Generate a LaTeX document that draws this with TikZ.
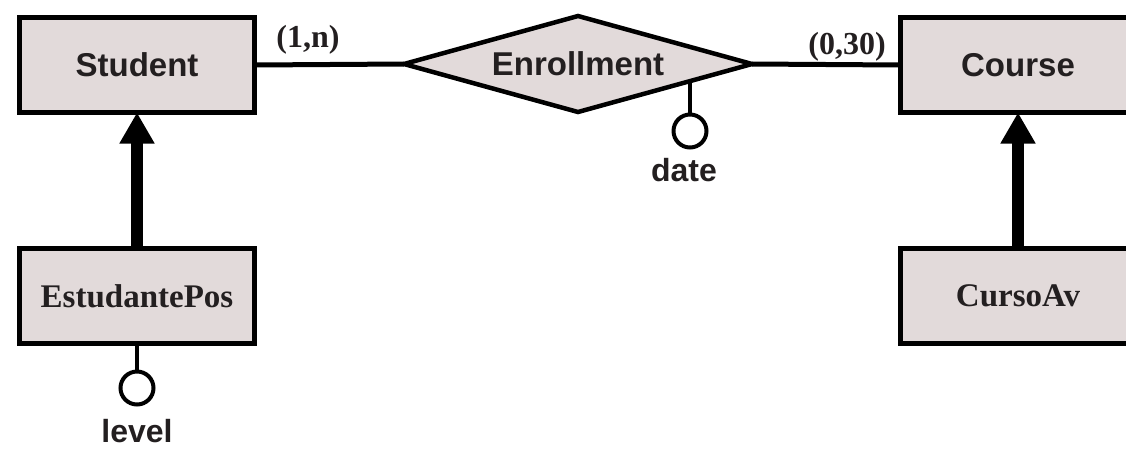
\documentclass[tikz,border=0pt]{standalone}
\usepackage{fontspec}
\setmainfont{Liberation Serif}
\newfontfamily\hsans{Liberation Sans}
\usetikzlibrary{shapes.geometric,arrows.meta}
\definecolor{erfill}{RGB}{226,218,218}
\definecolor{erink}{RGB}{35,31,32}
\tikzset{
  entity/.style={draw=black, line width=5pt, fill=erfill, minimum width=235pt,
    minimum height=95pt, inner sep=0pt, outer sep=0pt, text=erink},
  relation/.style={draw=black, line width=4.5pt, fill=erfill, diamond, aspect=3.5,
    minimum width=348pt, minimum height=96pt, inner sep=0pt, outer sep=0pt, text=erink},
  sanslabel/.style={font=\hsans\bfseries\fontsize{33}{36}\selectfont},
  seriflabel/.style={font=\bfseries\fontsize{33}{36}\selectfont},
  cardlabel/.style={font=\bfseries\fontsize{32}{34}\selectfont, text=erink, inner sep=0pt},
  link/.style={draw=black, line width=5pt},
  attrlink/.style={draw=black, line width=4pt},
  attrdot/.style={draw=black, line width=4pt, fill=white, circle,
    minimum size=33pt, inner sep=0pt, outer sep=0pt},
  attrname/.style={font=\hsans\bfseries\fontsize{32}{34}\selectfont, text=erink, inner sep=0pt},
  isa/.style={draw=black, line width=12pt, -{Triangle[width=33pt,length=31pt]}}
}
\begin{document}
\begin{tikzpicture}[x=1pt, y=-1pt]
  \useasboundingbox (0,0) rectangle (1126,448);
  \clip (0,0) rectangle (1126,448);

  % entities and the relationship
  \node[entity, sanslabel] (student) at (137,65) {Student};
  \node[entity, sanslabel] (course) at (1018,65) {Course};
  \node[relation, sanslabel] (enroll) at (578,64) {Enrollment};
  \node[entity, seriflabel] (estpos) at (137,296) {EstudantePos};
  \node[entity, seriflabel] (cursoav) at (1018,296) {CursoAv};

  % participation links and cardinalities
  \draw[link] (student.east) -- (enroll.west);
  \draw[link] (enroll.east) -- (course.west);
  \node[cardlabel] (cardstudent) at (308,40) {(1,n)};
  \node[cardlabel] (cardcourse) at (847,47) {(0,30)};

  % attribute of the relationship
  \coordinate (datefoot) at (690,82);
  \node[attrdot] (datedot) at (690,131) {};
  \draw[attrlink] (datefoot) -- (datedot.north);
  \node[attrname] (datelbl) at (684,170) {date};

  % attribute of the subclass
  \node[attrdot] (leveldot) at (137,388) {};
  \draw[attrlink] (estpos.south) -- (leveldot.north);
  \node[attrname] (levellbl) at (137,431) {level};

  % specialisation arrows
  \draw[isa] (estpos.north) -- (student.south);
  \draw[isa] (cursoav.north) -- (course.south);
\end{tikzpicture}
\end{document}
